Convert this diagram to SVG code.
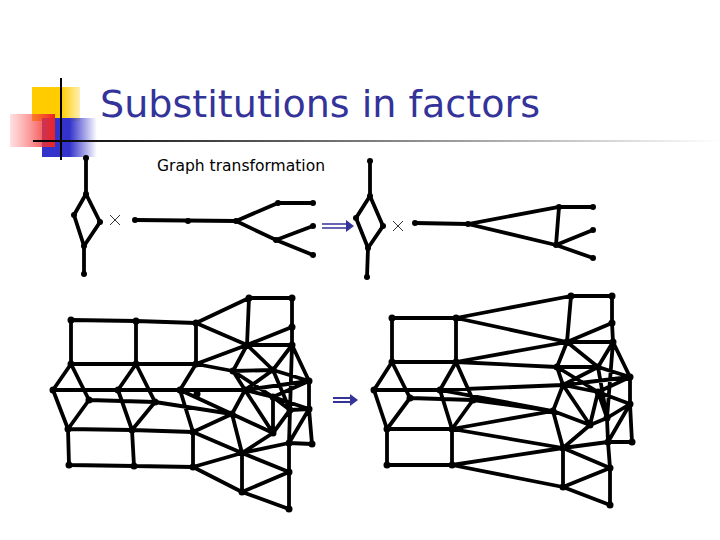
<svg xmlns="http://www.w3.org/2000/svg" width="720" height="540" viewBox="0 0 720 540">
<defs>
<linearGradient id="gb" x1="0" x2="1"><stop offset="0.5" stop-color="#3333cc"/><stop offset="1" stop-color="#3333cc" stop-opacity="0"/></linearGradient>
<linearGradient id="gr" x1="1" x2="0"><stop offset="0" stop-color="#ee2222"/><stop offset="1" stop-color="#ff6666" stop-opacity="0.2"/></linearGradient>
<linearGradient id="gy" x1="0" x2="1"><stop offset="0.6" stop-color="#ffcc00"/><stop offset="1" stop-color="#ffcc00" stop-opacity="0.3"/></linearGradient>
<linearGradient id="gl" x1="0" x2="1"><stop offset="0" stop-color="#000"/><stop offset="1" stop-color="#fff"/></linearGradient>
</defs>
<style>
.e{stroke:#000;stroke-width:3.8;fill:none;stroke-linecap:round}
.n{fill:#000}
.x{stroke:#333;stroke-width:1}
.t{font-family:"DejaVu Sans","Liberation Sans",sans-serif}
</style>
<rect width="720" height="540" fill="#fff"/>
<g id="logo">
<rect x="32" y="87" width="48" height="34" fill="url(#gy)"/>
<rect x="42" y="118" width="55" height="39" fill="url(#gb)"/>
<rect x="10" y="114" width="45" height="33" fill="url(#gr)"/>
<line x1="61" y1="78" x2="61" y2="160" stroke="#000" stroke-width="2"/>
<rect x="33" y="140" width="687" height="2" fill="url(#gl)"/>
</g>
<text class="t" x="100" y="117" font-size="38" fill="#333399" textLength="440" lengthAdjust="spacingAndGlyphs">Substitutions in factors</text>
<text class="t" x="157" y="171" font-size="15" fill="#000" textLength="168" lengthAdjust="spacingAndGlyphs">Graph transformation</text>
<g id="top-left">
<path class="e" d="M86,158 L86,194 L74,215 L84,246 L100,222 L86,194 M84,246 L84,274 M135,220 L236,221 L278,203 L313,203 M236,221 L276,240 L313,226 M276,240 L313,255"/>
<g class="n"><circle cx="86" cy="158" r="3"/><circle cx="86" cy="194" r="3"/><circle cx="74" cy="215" r="3"/><circle cx="100" cy="222" r="3"/><circle cx="84" cy="246" r="3"/><circle cx="84" cy="274" r="3"/><circle cx="135" cy="220" r="3"/><circle cx="188" cy="221" r="3"/><circle cx="236" cy="221" r="3"/><circle cx="278" cy="203" r="3"/><circle cx="313" cy="203" r="3"/><circle cx="276" cy="240" r="3"/><circle cx="313" cy="226" r="3"/><circle cx="313" cy="255" r="3"/></g>
<path class="x" d="M110,215 L120,225 M120,215 L110,225"/>
</g>
<g id="top-right">
<path class="e" d="M370,161 L370,196 L356,218 L368,248 L383,226 L370,196 M368,248 L367,277 M415,223 L468,224 L559,207 L593,207 M468,224 L556,245 L559,207 M556,245 L593,230 M556,245 L593,258"/>
<g class="n"><circle cx="370" cy="161" r="3"/><circle cx="370" cy="196" r="3"/><circle cx="356" cy="218" r="3"/><circle cx="383" cy="226" r="3"/><circle cx="368" cy="248" r="3"/><circle cx="367" cy="277" r="3"/><circle cx="415" cy="223" r="3"/><circle cx="468" cy="224" r="3"/><circle cx="559" cy="207" r="3"/><circle cx="593" cy="207" r="3"/><circle cx="556" cy="245" r="3"/><circle cx="593" cy="230" r="3"/><circle cx="593" cy="258" r="3"/></g>
<path class="x" d="M393,221 L403,231 M403,221 L393,231"/>
</g>
<g id="connectors">
<path d="M322,224 H347 M322,228 H347" stroke="#333399" stroke-width="1.5"/><path d="M346,220 L354,226 L346,232 z" fill="#333399"/>
<path d="M333,398 H351 M333,402 H351" stroke="#333399" stroke-width="1.8"/><path d="M350,394 L358,400 L350,406 z" fill="#333399"/>
</g>
<g id="mesh-left">
<path class="e" d="M71,320L136,321 M136,321L196,323 M71,320L71,364 M136,321L136,364 M196,323L196,364 M71,364L136,364 M136,364L196,364 M71,364L53,390 M71,364L89,400 M53,390L68,429 M89,400L68,429 M136,364L118,390 M136,364L155,402 M118,390L132,430 M155,402L132,430 M196,364L180,390 M53,390L118,390 M118,390L180,390 M89,400L155,402 M155,402L232,414 M68,429L132,430 M132,430L193,432 M68,429L69,465 M132,430L134,466 M193,432L193,467 M69,465L134,466 M134,466L193,467
M196,323L249,298 M249,298L292,298 M292,298L292,327 M249,298L247,345 M196,323L247,345 M247,345L292,327 M247,345L292,345 M292,327L292,345 M196,364L247,345 M196,364L233,371 M247,345L233,371 M247,345L273,370 M292,345L273,370 M292,345L309,381 M233,371L273,370 M273,370L309,381 M233,371L245,390 M273,370L245,390 M245,390L309,381 M180,390L245,390 M180,390L193,432 M180,390L232,414 M245,390L232,414 M245,390L273,397 M273,397L309,381 M273,397L290,410 M290,410L292,345 M290,410L309,409 M273,397L309,409 M232,414L242,453 M193,432L242,453 M193,432L232,414 M232,414L273,433 M273,397L273,433 M273,433L290,410 M273,433L242,453 M242,453L289,443 M289,443L312,444 M289,443L290,410 M312,444L309,409 M242,453L242,492 M193,467L242,453 M193,467L242,492 M242,492L289,472 M242,453L289,472 M289,443L289,472 M289,472L289,509 M242,492L289,509 M309,409L289,443 M233,371L273,397 M273,370L290,410 M245,390L273,433 M309,381L309,409"/>
<g class="n"><circle cx="71" cy="320" r="3.5"/><circle cx="136" cy="321" r="3.5"/><circle cx="196" cy="323" r="3.5"/><circle cx="71" cy="364" r="3.5"/><circle cx="136" cy="364" r="3.5"/><circle cx="196" cy="364" r="3.5"/><circle cx="53" cy="390" r="3.5"/><circle cx="118" cy="390" r="3.5"/><circle cx="180" cy="390" r="3.5"/><circle cx="89" cy="400" r="3.5"/><circle cx="155" cy="402" r="3.5"/><circle cx="68" cy="429" r="3.5"/><circle cx="132" cy="430" r="3.5"/><circle cx="193" cy="432" r="3.5"/><circle cx="69" cy="465" r="3.5"/><circle cx="134" cy="466" r="3.5"/><circle cx="193" cy="467" r="3.5"/><circle cx="249" cy="298" r="3.5"/><circle cx="292" cy="298" r="3.5"/><circle cx="292" cy="327" r="3.5"/><circle cx="247" cy="345" r="3.5"/><circle cx="292" cy="345" r="3.5"/><circle cx="233" cy="371" r="3.5"/><circle cx="273" cy="370" r="3.5"/><circle cx="309" cy="381" r="3.5"/><circle cx="245" cy="390" r="3.5"/><circle cx="273" cy="397" r="3.5"/><circle cx="290" cy="410" r="3.5"/><circle cx="309" cy="409" r="3.5"/><circle cx="232" cy="414" r="3.5"/><circle cx="273" cy="433" r="3.5"/><circle cx="242" cy="453" r="3.5"/><circle cx="289" cy="443" r="3.5"/><circle cx="312" cy="444" r="3.5"/><circle cx="242" cy="492" r="3.5"/><circle cx="289" cy="472" r="3.5"/><circle cx="289" cy="509" r="3.5"/><circle cx="197" cy="394" r="3.5"/></g>
</g>
<g id="mesh-right">
<path class="e" d="M392,318L456,318 M392,318L392,362 M456,318L456,362 M392,362L456,362 M392,362L374,390 M392,362L410,398 M374,390L387,429 M410,398L387,429 M456,362L440,390 M456,362L473,400 M440,390L452,429 M473,400L452,429 M374,390L440,390 M410,398L473,400 M473,400L553,411 M387,429L452,429 M387,429L387,465 M452,429L452,465 M387,465L452,465
M456,318L571,296 M571,296L612,296 M612,296L612,323 M571,296L567,342 M456,318L567,342 M567,342L612,323 M567,342L613,342 M612,323L613,342 M456,362L567,342 M456,362L557,367 M567,342L557,367 M567,342L598,367 M613,342L598,367 M613,342L630,377 M557,367L598,367 M598,367L630,377 M557,367L563,385 M598,367L563,385 M563,385L630,377 M440,390L563,385 M440,390L553,411 M563,385L553,411 M563,385L598,392 M598,392L630,377 M598,392L607,418 M607,418L613,342 M607,418L630,404 M598,392L630,404 M553,411L563,448 M452,429L563,448 M452,429L553,411 M553,411L590,425 M598,392L590,425 M590,425L607,418 M590,425L563,448 M563,448L608,442 M608,442L632,442 M608,442L607,418 M632,442L630,404 M563,448L563,487 M452,465L563,448 M452,465L563,487 M563,487L610,468 M563,448L610,468 M608,442L610,468 M610,468L610,505 M563,487L610,505 M630,404L608,442 M557,367L598,392 M598,367L607,418 M563,385L590,425 M630,377L630,404"/>
<g class="n"><circle cx="392" cy="318" r="3.5"/><circle cx="456" cy="318" r="3.5"/><circle cx="392" cy="362" r="3.5"/><circle cx="456" cy="362" r="3.5"/><circle cx="374" cy="390" r="3.5"/><circle cx="410" cy="398" r="3.5"/><circle cx="440" cy="390" r="3.5"/><circle cx="473" cy="400" r="3.5"/><circle cx="387" cy="429" r="3.5"/><circle cx="452" cy="429" r="3.5"/><circle cx="387" cy="465" r="3.5"/><circle cx="452" cy="465" r="3.5"/><circle cx="571" cy="296" r="3.5"/><circle cx="612" cy="296" r="3.5"/><circle cx="612" cy="323" r="3.5"/><circle cx="567" cy="342" r="3.5"/><circle cx="613" cy="342" r="3.5"/><circle cx="557" cy="367" r="3.5"/><circle cx="598" cy="367" r="3.5"/><circle cx="630" cy="377" r="3.5"/><circle cx="563" cy="385" r="3.5"/><circle cx="598" cy="392" r="3.5"/><circle cx="607" cy="418" r="3.5"/><circle cx="630" cy="404" r="3.5"/><circle cx="553" cy="411" r="3.5"/><circle cx="590" cy="425" r="3.5"/><circle cx="563" cy="448" r="3.5"/><circle cx="608" cy="442" r="3.5"/><circle cx="632" cy="442" r="3.5"/><circle cx="563" cy="487" r="3.5"/><circle cx="610" cy="468" r="3.5"/><circle cx="610" cy="505" r="3.5"/></g>
</g>
</svg>
